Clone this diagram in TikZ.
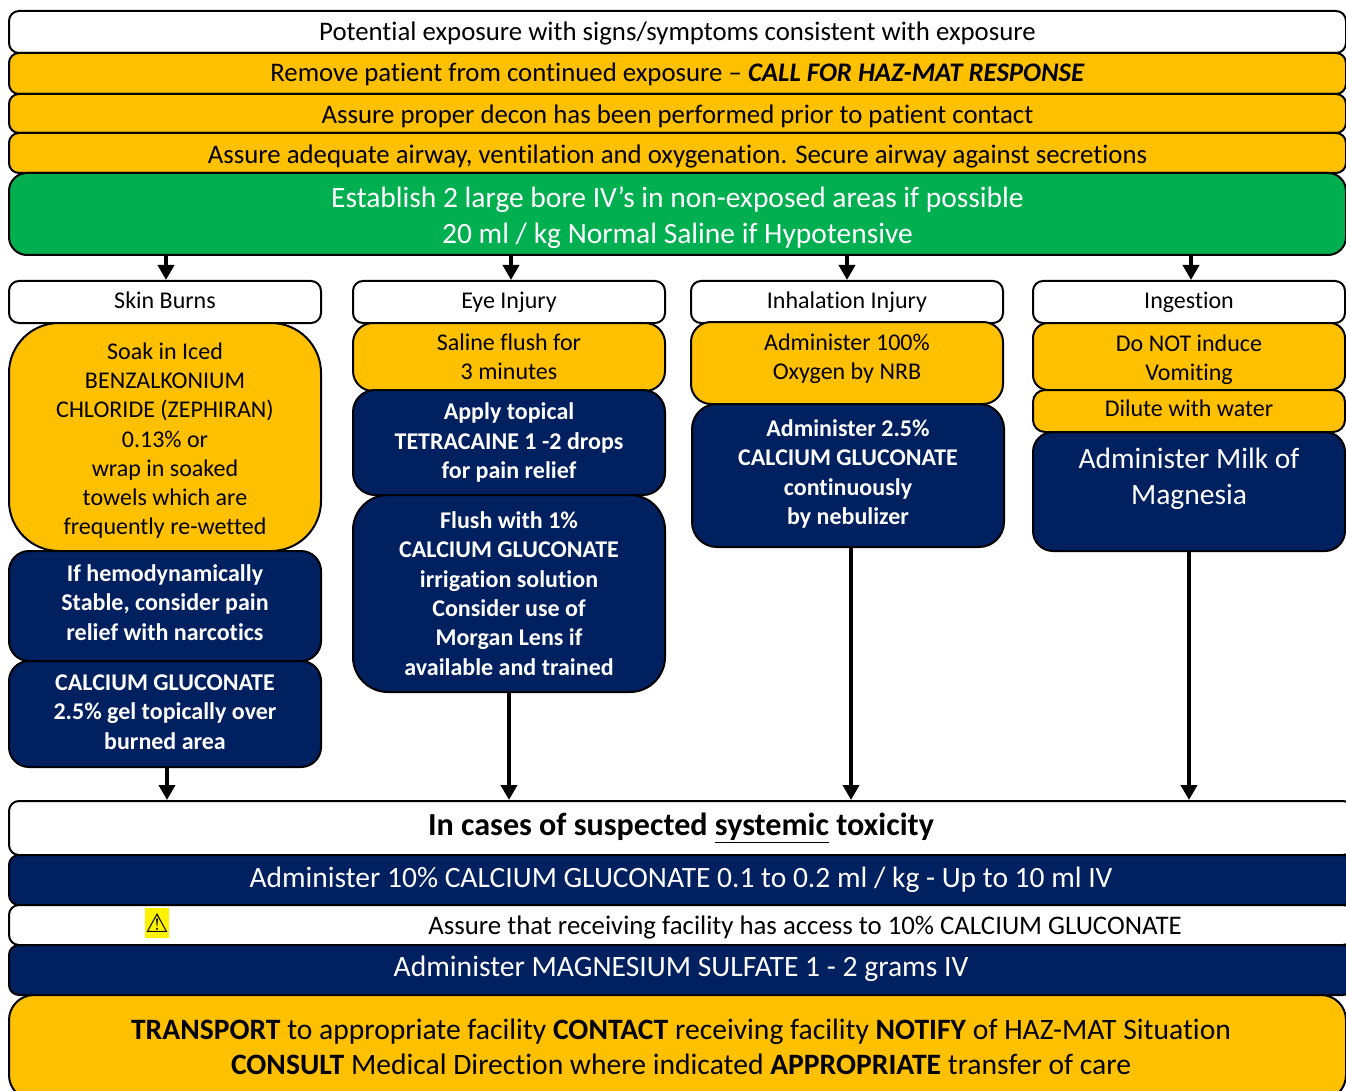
\documentclass[tikz,border=0pt]{standalone}
\usepackage{fontspec}
\setmainfont[Ligatures=NoCommon]{Carlito}
\newfontfamily\symbfont{DejaVu Sans}
\usetikzlibrary{arrows.meta}
\definecolor{hazorange}{HTML}{FFC000}
\definecolor{haznavy}{HTML}{002060}
\definecolor{hazgreen}{HTML}{00B050}
% Rules without width: they push the text of a node up or down
\newcommand{\liftby}[1]{\rule[-#1pt]{0pt}{0pt}}
\newcommand{\dropby}[1]{\rule{0pt}{#1pt}}
\begin{document}
\begin{tikzpicture}[x=1pt,y=-1pt]
    % Styles for boxes and arrows
    \tikzstyle{hazbox} = [draw=black,line width=2pt,rectangle,rounded corners=10pt,inner sep=0pt,align=center,font=\fontsize{24}{29.3}\selectfont]
    \tikzstyle{whitebox} = [hazbox,fill=white]
    \tikzstyle{orangebox} = [hazbox,fill=hazorange]
    \tikzstyle{navybox} = [hazbox,fill=haznavy,text=white]
    \tikzstyle{navybold} = [navybox,font=\fontsize{24}{29.3}\selectfont\bfseries]
    \tikzstyle{greenbox} = [hazbox,fill=hazgreen,text=white,font=\fontsize{29.5}{36}\selectfont]
    \tikzstyle{rowfont} = [font=\fontsize{26.8}{32}\selectfont]
    \tikzstyle{bigfont} = [font=\fontsize{29.5}{36}\selectfont]
    \tikzstyle{arrow} = [line width=4pt,-{Triangle[length=15pt,width=16pt]}]

    \useasboundingbox (0,0) rectangle (1346,1091);

    % Common top steps
    \node[whitebox,rowfont,minimum width=1337pt,minimum height=42pt] (exposure) at (677.5,32) {\dropby{22.5}Potential exposure with signs/symptoms consistent with exposure};
    \node[orangebox,rowfont,minimum width=1337pt,minimum height=41pt] (remove) at (677.5,73.5) {\dropby{20.5}Remove patient from continued exposure – \textbf{\textit{CALL FOR HAZ-MAT RESPONSE}}};
    \node[orangebox,rowfont,minimum width=1337pt,minimum height=39pt] (decon) at (677.5,113.5) {\dropby{24}Assure proper decon has been performed prior to patient contact};
    \node[orangebox,rowfont,minimum width=1337pt,minimum height=40pt] (airway) at (677.5,153) {\dropby{25}Assure adequate airway, ventilation and oxygenation. Secure airway against secretions};
    \node[greenbox,rounded corners=18pt,minimum width=1337pt,minimum height=82pt] (fluids) at (677.5,214) {\dropby{29}Establish 2 large bore IV’s in non-exposed areas if possible\\20 ml / kg Normal Saline if Hypotensive};

    % Headings of the four columns
    \foreach \nom/\x/\titre/\tige in {skin/165/Skin Burns/4,eye/509/Eye Injury/0,inhal/847/Inhalation Injury/0,ingest/1189/Ingestion/0}{
        \node[whitebox,minimum width=312pt,minimum height=42pt] (\nom head) at (\x,302) {\titre\liftby{\tige}};
    }

    % Skin burns column
    \node[orangebox,rounded corners=50pt,minimum width=312pt,minimum height=228pt] (skinsoak) at (165,437) {\dropby{24}Soak in Iced\\BENZALKONIUM\\CHLORIDE (ZEPHIRAN)\\0.13\% or\\wrap in soaked\\towels which are\\frequently re-wetted};
    \node[navybold,rounded corners=20pt,minimum width=312pt,minimum height=110pt] (skinpain) at (165,606) {If hemodynamically\\Stable, consider pain\\relief with narcotics\liftby{7}};
    \node[navybold,rounded corners=20pt,minimum width=312pt,minimum height=106pt] (skingel) at (165,714) {CALCIUM GLUCONATE\\2.5\% gel topically over\\burned area\liftby{4}};

    % Eye injury column
    \node[orangebox,rounded corners=20pt,minimum width=312pt,minimum height=68pt] (eyeflush) at (509,357) {Saline flush for\\3 minutes};
    \node[navybold,rounded corners=22pt,minimum width=312pt,minimum height=105pt] (eyedrops) at (509,442.5) {Apply topical\\TETRACAINE 1 -2 drops\\for pain relief};
    \node[navybold,rounded corners=35pt,minimum width=312pt,minimum height=197pt] (eyelens) at (509,593.5) {Flush with 1\%\\CALCIUM GLUCONATE\\irrigation solution\\Consider use of\\Morgan Lens if\\available and trained};

    % Inhalation injury column
    \node[orangebox,rounded corners=20pt,minimum width=312pt,minimum height=82pt] (inhaloxy) at (847,363) {Administer 100\%\\Oxygen by NRB\liftby{12}};
    \node[navybold,rounded corners=25pt,minimum width=312pt,minimum height=143pt] (inhalneb) at (848,475.5) {Administer 2.5\%\\CALCIUM GLUCONATE\\continuously\\by nebulizer\liftby{7}};

    % Ingestion column
    \node[orangebox,rounded corners=15pt,minimum width=312pt,minimum height=67pt] (ingestvomit) at (1189,356.5) {\dropby{23}Do NOT induce\\Vomiting};
    \node[orangebox,rounded corners=12pt,minimum width=312pt,minimum height=42pt] (ingestwater) at (1189,411) {Dilute with water\liftby{6}};
    \node[navybox,bigfont,rounded corners=20pt,minimum width=312pt,minimum height=119pt] (ingestmilk) at (1189,491.5) {Administer Milk of\\Magnesia\liftby{30}};

    % Systemic toxicity steps, running off the right edge
    \node[whitebox,font=\fontsize{32.1}{36}\selectfont,minimum width=1344pt,minimum height=54pt] (systemic) at (681,828) {\textbf{In cases of suspected \underline{systemic} toxicity}\liftby{6}};
    \node[navybox,bigfont,minimum width=1344pt,minimum height=50pt] (calcium) at (681,880) {Administer 10\% CALCIUM GLUCONATE 0.1 to 0.2 ml / kg - Up to 10 ml IV\liftby{5}};
    \node[whitebox,rowfont,minimum width=1344pt,minimum height=40pt] (facility) at (681,925) {\dropby{24}\hspace*{248pt}Assure that receiving facility has access to 10\% CALCIUM GLUCONATE};
    \node[navybox,font=\fontsize{29.6}{36}\selectfont,minimum width=1344pt,minimum height=50pt] (magnesium) at (681,970) {Administer MAGNESIUM SULFATE 1 - 2 grams IV\liftby{8}};
    \node[orangebox,font=\fontsize{29.6}{36}\selectfont,rounded corners=25pt,minimum width=1337pt,minimum height=105pt] (transport) at (677.5,1047.5) {\hspace*{7pt}\textbf{TRANSPORT} to appropriate facility \textbf{CONTACT} receiving facility \textbf{NOTIFY} of HAZ-MAT Situation\\[-1pt]\hspace*{7pt}\textbf{CONSULT} Medical Direction where indicated \textbf{APPROPRIATE} transfer of care\liftby{2}};

    % Warning sign
    \node[fill=yellow,inner sep=0pt,minimum width=24pt,minimum height=30pt,font=\symbfont\fontsize{26}{28}\selectfont] (warning) at (157,923) {⚠};

    % Arrows from the fluids box to the headings
    \foreach \nom/\dx in {skin/1,eye/2,inhal/0,ingest/2}{
        \draw[arrow] ([xshift=\dx pt]\nom head.north |- fluids.south) -- ([xshift=\dx pt]\nom head.north);
    }

    % Arrows from the last box of each column to the systemic box
    \foreach \nom/\dx in {skingel/2,eyelens/0,inhalneb/3,ingestmilk/0}{
        \draw[arrow] ([xshift=\dx pt]\nom.south) -- ([xshift=\dx pt]\nom.south |- systemic.north);
    }
\end{tikzpicture}
\end{document}
